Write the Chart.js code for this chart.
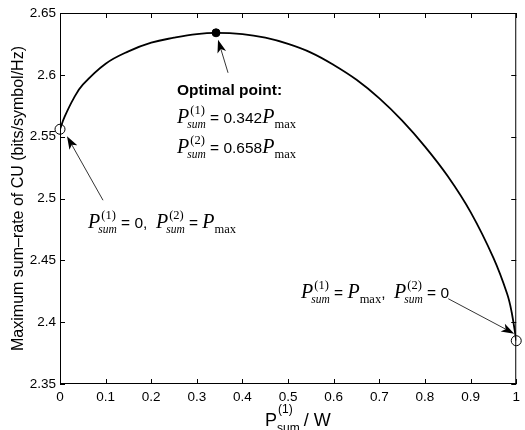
<!DOCTYPE html>
<html>
<head>
<meta charset="utf-8">
<script src="https://cdn.jsdelivr.net/npm/chart.js@4/dist/chart.umd.min.js"></script>
<style>
  html, body { margin: 0; padding: 0; background: #fff; }
  canvas { display: block; }
</style>
</head>
<body>
<canvas id="sumRateChart" width="525" height="430"></canvas>
<script>
// share of total power given to user 1 (P_sum^(1) / P_max)
const powerShare = [0, 0.01, 0.03, 0.05, 0.1, 0.15, 0.2, 0.25, 0.3, 0.342, 0.4, 0.45, 0.5, 0.55,
                    0.6, 0.65, 0.7, 0.75, 0.8, 0.85, 0.9, 0.95, 0.98, 0.99, 1];
// maximum sum-rate of CU (bits/symbol/Hz)
const sumRate = [2.556, 2.566, 2.581, 2.592, 2.609, 2.619, 2.626, 2.630, 2.633, 2.634, 2.633, 2.630, 2.625, 2.618,
                 2.608, 2.596, 2.581, 2.563, 2.542, 2.518, 2.489, 2.452, 2.423, 2.408, 2.385];
// highlighted points: both-to-user-2, optimum, both-to-user-1
const markerX = [0, 0.342, 1];
const markerY = [2.556, 2.634, 2.385];
const xTicks = [0, 0.1, 0.2, 0.3, 0.4, 0.5, 0.6, 0.7, 0.8, 0.9, 1];
const yTicks = [2.35, 2.4, 2.45, 2.5, 2.55, 2.6, 2.65];

const SANS = '"Liberation Sans", Arial, Helvetica, sans-serif';
const SERIF = '"Liberation Serif", "Times New Roman", serif';
Chart.defaults.font.family = SANS;
Chart.defaults.color = '#000';

// draws P with optional super/subscript, or plain strings, left to right
function mathLine(ctx, x, y, parts) {
    parts.forEach(part => {
        if (typeof part === 'string') {
            ctx.font = '15.5px ' + SANS;
            ctx.fillText(part, x, y);
            x += ctx.measureText(part).width;
            return;
        }
        ctx.font = 'italic 20px ' + SERIF;
        ctx.fillText('P', x, y);
        x += ctx.measureText('P').width;
        let w = 0;
        if (part.sup) {
            ctx.font = '12.5px ' + SERIF;
            ctx.fillText(part.sup, x + 1, y - 9);
            w = Math.max(w, ctx.measureText(part.sup).width + 1);
        }
        if (part.sub) {
            ctx.font = (part.sub === 'sum' ? 'italic 11.5px ' : '12.5px ') + SERIF;
            const sx = part.sup ? x - 2 : x;
            ctx.fillText(part.sub, sx, y + 5);
            w = Math.max(w, ctx.measureText(part.sub).width + (sx - x));
        }
        x += w;
    });
}

function arrow(ctx, x1, y1, x2, y2) {
    const ang = Math.atan2(y2 - y1, x2 - x1);
    const c = Math.cos(ang), s = Math.sin(ang);
    const len = 13, half = 4.5, back = 0.75;
    ctx.beginPath();
    ctx.moveTo(x1, y1);
    ctx.lineTo(x2 - c * len * back, y2 - s * len * back);
    ctx.lineWidth = 0.8;
    ctx.stroke();
    ctx.beginPath();
    ctx.moveTo(x2, y2);
    ctx.lineTo(x2 - c * len - s * half, y2 - s * len + c * half);
    ctx.lineTo(x2 - c * len * back, y2 - s * len * back);
    ctx.lineTo(x2 - c * len + s * half, y2 - s * len - c * half);
    ctx.closePath();
    ctx.fill();
}

const framePlugin = {
    id: 'frame',
    afterDraw(chart) {
        const ctx = chart.ctx;
        const a = chart.chartArea;
        const xs = chart.scales.x, ys = chart.scales.y;
        ctx.save();
        ctx.strokeStyle = '#000';
        ctx.fillStyle = '#000';

        // box
        ctx.lineWidth = 1;
        ctx.strokeRect(a.left + 0.5, a.top + 0.5, a.right - a.left - 1, a.bottom - a.top - 1);

        // inward ticks, all four sides
        ctx.beginPath();
        xTicks.forEach(v => {
            const px = Math.round(xs.getPixelForValue(v)) + 0.5;
            ctx.moveTo(px, a.bottom); ctx.lineTo(px, a.bottom - 5);
            ctx.moveTo(px, a.top); ctx.lineTo(px, a.top + 5);
        });
        yTicks.forEach(v => {
            const py = Math.round(ys.getPixelForValue(v)) + 0.5;
            ctx.moveTo(a.left, py); ctx.lineTo(a.left + 5, py);
            ctx.moveTo(a.right, py); ctx.lineTo(a.right - 5, py);
        });
        ctx.stroke();

        // arrows, pointing at the highlighted markers
        const mx = markerX.map(v => xs.getPixelForValue(v));
        const my = markerY.map(v => ys.getPixelForValue(v));
        arrow(ctx, mx[1] + 12, my[1] + 40, mx[1] + 2, my[1] + 7);
        arrow(ctx, mx[0] + 43, my[0] + 71, mx[0] + 7, my[0] + 7);
        arrow(ctx, mx[2] - 68, my[2] - 42, mx[2] - 2, my[2] - 7);

        // annotation text
        ctx.textAlign = 'left';
        ctx.textBaseline = 'alphabetic';
        ctx.font = 'bold 15.5px ' + SANS;
        ctx.fillText('Optimal point:', 177, 95);
        mathLine(ctx, 177, 123, [{ sup: '(1)', sub: 'sum' }, ' = 0.342', { sub: 'max' }]);
        mathLine(ctx, 177, 153, [{ sup: '(2)', sub: 'sum' }, ' = 0.658', { sub: 'max' }]);
        mathLine(ctx, 88, 228, [{ sup: '(1)', sub: 'sum' }, ' = 0,  ', { sup: '(2)', sub: 'sum' }, ' = ', { sub: 'max' }]);
        mathLine(ctx, 301, 298, [{ sup: '(1)', sub: 'sum' }, ' = ', { sub: 'max' }, ',  ', { sup: '(2)', sub: 'sum' }, ' = 0']);

        // x axis title: P_sum^(1) / W
        ctx.font = '18px ' + SANS;
        ctx.fillText('P', 265, 426);
        let tx = 265 + ctx.measureText('P').width + 1;
        ctx.font = '12px ' + SANS;
        ctx.fillText('(1)', tx, 413);
        ctx.fillText('sum', tx - 1, 432);
        tx += ctx.measureText('sum').width + 3;
        ctx.font = '18px ' + SANS;
        ctx.fillText('/ W', tx, 426);

        // y axis title
        ctx.translate(19, (a.top + a.bottom) / 2);
        ctx.rotate(-Math.PI / 2);
        ctx.textAlign = 'center';
        ctx.textBaseline = 'middle';
        ctx.font = '16px ' + SANS;
        ctx.fillText('Maximum sum\u2013rate of CU (bits/symbol/Hz)', 0, 0);
        ctx.restore();
    }
};

new Chart(document.getElementById('sumRateChart'), {
    type: 'line',
    data: {
        datasets: [
            {
                label: 'Sum-rate',
                data: powerShare.map((x, i) => ({ x: x, y: sumRate[i] })),
                borderColor: '#000',
                borderWidth: 1.8,
                pointRadius: 0,
                tension: 0.4,
                fill: false
            },
            {
                label: 'Markers',
                data: markerX.map((x, i) => ({ x: x, y: markerY[i] })),
                showLine: false,
                borderColor: '#000',
                borderWidth: 1,
                backgroundColor: ['rgba(0,0,0,0)', '#000', 'rgba(0,0,0,0)'],
                pointRadius: [5, 4, 5],
                clip: false
            }
        ]
    },
    options: {
        responsive: false,
        animation: false,
        layout: { padding: { top: 13, right: 2, left: 0, bottom: 0 } },
        plugins: {
            legend: { display: false },
            tooltip: { enabled: false }
        },
        scales: {
            x: {
                type: 'linear',
                min: 0,
                max: 1,
                afterBuildTicks: axis => { axis.ticks = xTicks.map(v => ({ value: v })); },
                afterFit: axis => { axis.height = 46; },
                grid: { display: false, drawTicks: false },
                border: { display: false },
                ticks: {
                    padding: 5,
                    maxRotation: 0,
                    font: { size: 13.5 },
                    callback: v => String(v)
                }
            },
            y: {
                type: 'linear',
                min: 2.35,
                max: 2.65,
                afterBuildTicks: axis => { axis.ticks = yTicks.map(v => ({ value: v })); },
                afterFit: axis => { axis.width = 60; },
                grid: { display: false, drawTicks: false },
                border: { display: false },
                ticks: {
                    padding: 4,
                    font: { size: 13.5 },
                    callback: v => String(v)
                }
            }
        }
    },
    plugins: [framePlugin]
});
</script>
</body>
</html>
